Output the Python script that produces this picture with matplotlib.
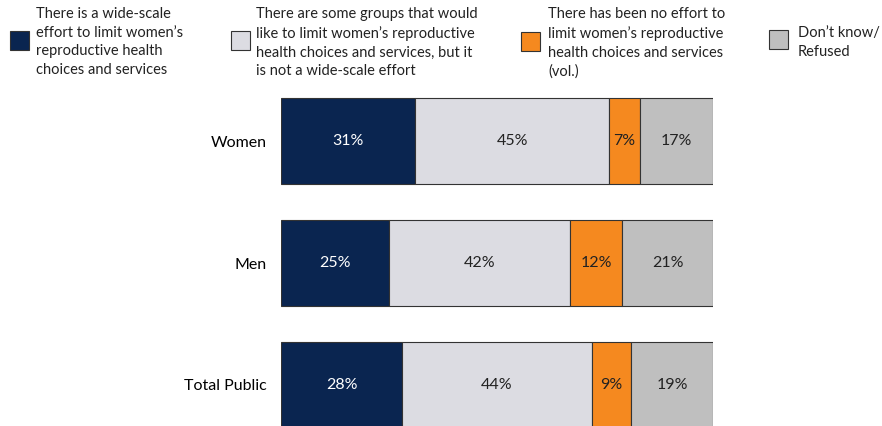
import matplotlib.pyplot as plt
from matplotlib.patches import Rectangle

plt.rcParams['font.family'] = ['Lato', 'DejaVu Sans']

groups = ['Women', 'Men', 'Total Public']
wide_scale = [31, 25, 28]
some_groups = [45, 42, 44]
no_effort = [7, 12, 9]
dont_know = [17, 21, 19]

series = [wide_scale, some_groups, no_effort, dont_know]
colors = ['#0a2550', '#dcdce2', '#f5891f', '#bfbfbf']
text_colors = ['white', '#222222', '#222222', '#222222']
legend_labels = [
    "There is a wide-scale\neffort to limit women\u2019s\nreproductive health\nchoices and services",
    "There are some groups that would\nlike to limit women\u2019s reproductive\nhealth choices and services, but it\nis not a wide-scale effort",
    "There has been no effort to\nlimit women\u2019s reproductive\nhealth choices and services\n(vol.)",
    "Don\u2019t know/\nRefused",
]

W, H = 882, 426
fig = plt.figure(figsize=(W / 100, H / 100), dpi=100)
ax = fig.add_axes([281 / W, 0, 432 / W, 1])

ypos = list(range(len(groups)))
left = [0] * len(groups)
for vals, c, tc in zip(series, colors, text_colors):
    ax.barh(ypos, vals, left=left, height=0.7, color=c,
            edgecolor='#333333', linewidth=0.8)
    for y, v, l in zip(ypos, vals, left):
        ax.text(l + v / 2, y, f'{v}%', ha='center', va='center',
                color=tc, fontsize=11.5)
    left = [a + b for a, b in zip(left, vals)]

ax.set_xlim(0, 100)
ax.set_ylim((H - 141) / 122, -141 / 122)
ax.set_yticks(ypos)
ax.set_yticklabels(groups, fontsize=11.5)
ax.tick_params(axis='y', length=0, pad=10)
ax.set_xticks([])
for s in ax.spines.values():
    s.set_visible(False)

# legend drawn by hand across the top
box_x = [10, 231, 521, 769]
box_y = [40, 40, 41, 39]
text_x = [36, 256, 548, 798]
for bx, by, tx, c, lab in zip(box_x, box_y, text_x, colors, legend_labels):
    fig.patches.append(Rectangle((bx / W, 1 - (by + 9.5) / H), 19 / W, 19 / H,
                                 transform=fig.transFigure, facecolor=c,
                                 edgecolor='#333333', linewidth=0.8))
    n = lab.count('\n') + 1
    ty = 7 if n == 4 else 26
    fig.text(tx / W, 1 - ty / H, lab, ha='left', va='top', fontsize=10.5,
             linespacing=1.42, color='#222222')

fig.savefig('out.png', dpi=100)
